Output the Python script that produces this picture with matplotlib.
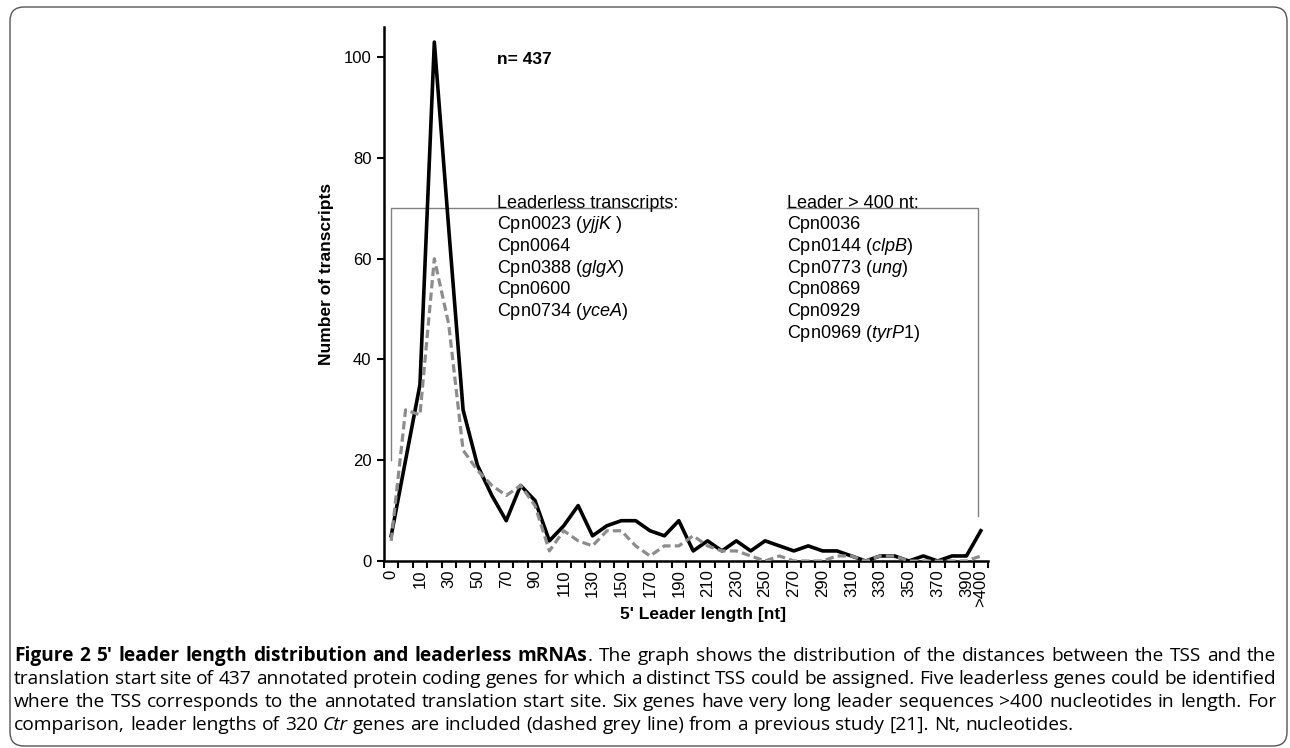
import numpy as np
import matplotlib
matplotlib.use('Agg')
import matplotlib.pyplot as plt
from matplotlib.patches import FancyBboxPatch
from matplotlib.transforms import IdentityTransform

# ── fonts ─────────────────────────────────────────────────────────────────────
plt.rcParams['font.family'] = ['Liberation Sans', 'DejaVu Sans']
plt.rcParams['mathtext.fontset'] = 'custom'
plt.rcParams['mathtext.rm'] = 'Liberation Sans'
plt.rcParams['mathtext.it'] = 'Liberation Sans:italic'
plt.rcParams['mathtext.bf'] = 'Liberation Sans:bold'

W, H = 1290, 748

# ── data ──────────────────────────────────────────────────────────────────────
categories = ['0', '5'] + [str(v) for v in range(10, 400, 10)] + ['>400']
label_idx = list(range(0, 41, 2)) + [41]

cpn_counts = [5, 20, 35, 103, 66, 30, 19, 13, 8, 15, 12, 4, 7, 11, 5, 7, 8, 8, 6, 5,
              8, 2, 4, 2, 4, 2, 4, 3, 2, 3, 2, 2, 1, 0, 1, 1, 0, 1, 0, 1, 1, 6]
ctr_counts = [4, 30, 29, 60, 47, 22, 18, 15, 13, 15, 11, 2, 6, 4, 3, 6, 6, 3, 1, 3,
              3, 5, 3, 2, 2, 1, 0, 1, 0, 0, 0, 1, 1, 0, 1, 1, 0, 0, 0, 0, 0, 1]

yticks = [0, 20, 40, 60, 80, 100]

leaderless = ['Leaderless transcripts:', 'Cpn0023 ($yjjK$ )', 'Cpn0064',
              'Cpn0388 ($glgX$)', 'Cpn0600', 'Cpn0734 ($yceA$)']
long_leader = ['Leader > 400 nt:', 'Cpn0036', 'Cpn0144 ($clpB$)', 'Cpn0773 ($ung$)',
               'Cpn0869', 'Cpn0929', 'Cpn0969 ($tyrP1$)']

caption = [
    [('Figure 2 5\u2032 leader length distribution and leaderless mRNAs', 'bold'),
     ('. The graph shows the distribution of the distances between the TSS and the', 'normal')],
    [('translation start site of 437 annotated protein coding genes for which a distinct '
      'TSS could be assigned. Five leaderless genes could be identified', 'normal')],
    [('where the TSS corresponds to the annotated translation start site. Six genes have '
      'very long leader sequences >400 nucleotides in length. For', 'normal')],
    [('comparison, leader lengths of 320 ', 'normal'), ('Ctr', 'italic'),
     (' genes are included (dashed grey line) from a previous study [21]. Nt, nucleotides.', 'normal')],
]

# ── figure ────────────────────────────────────────────────────────────────────
fig = plt.figure(figsize=(W / 100, H / 100), dpi=100)
fig.add_artist(FancyBboxPatch((10, 2), 1277, 739,
                              boxstyle='round,pad=0,rounding_size=14',
                              transform=IdentityTransform(),
                              facecolor='none', edgecolor='#555555', linewidth=1.0))

ax = fig.add_axes([384 / W, 1 - 561 / H, 604 / W, 534 / H])
x = np.arange(len(categories))
ax.plot(x, cpn_counts, color='black', linewidth=2.6, zorder=3)
ax.plot(x, ctr_counts, color='#8c8c8c', linewidth=2.3, linestyle=(0, (2.6, 1.3)), zorder=4)

ax.set_xlim(-0.5, len(categories) - 0.5)
ax.set_ylim(0, 106)
ax.set_yticks(yticks)
ax.tick_params(axis='y', labelsize=12, length=5, width=1.5, direction='out', pad=4)

# category boundaries as ticks, labels in between (Excel style)
ax.set_xticks(np.arange(-0.5, len(categories), 1))
ax.set_xticklabels([])
ax.tick_params(axis='x', which='major', length=5, width=1.5, direction='out')
ax.set_xticks(label_idx, minor=True)
ax.set_xticklabels([categories[i] for i in label_idx], minor=True, rotation=90, fontsize=12)
ax.tick_params(axis='x', which='minor', length=0, pad=6)

for s in ['top', 'right']:
    ax.spines[s].set_visible(False)
for s in ['left', 'bottom']:
    ax.spines[s].set_linewidth(1.8)

# brackets around the gene lists
grey = '#808080'
ax.plot([0, 0, 19.3], [20, 70, 70], color=grey, linewidth=1.0, zorder=2)
ax.plot([27.5, 40.8, 40.8], [70, 70, 9], color=grey, linewidth=1.0, zorder=2)

def px(xp, yp):
    return xp / W, 1 - yp / H

fig.text(*px(327, 274), 'Number of transcripts', rotation=90, ha='center', va='center',
         fontsize=12.5, fontweight='bold')
fig.text(*px(703, 615), "5' Leader length [nt]", ha='center', va='center',
         fontsize=12.5, fontweight='bold')
fig.text(*px(497, 60), 'n= 437', ha='left', va='center', fontsize=12.5, fontweight='bold')

for i, s in enumerate(leaderless):
    fig.text(*px(497, 207.5 + i * 21.7), s, ha='left', va='baseline', fontsize=13)
for i, s in enumerate(long_leader):
    fig.text(*px(787, 207.5 + i * 21.7), s, ha='left', va='baseline', fontsize=13)

# ── caption, justified word by word ───────────────────────────────────────────
CAP_FONT = ['Open Sans', 'DejaVu Sans']
CAP_FS = 13.8
renderer = fig.canvas.get_renderer()
styles = {'bold': dict(fontweight='bold', fontsize=CAP_FS),
          'italic': dict(fontstyle='italic', fontsize=CAP_FS),
          'normal': dict(fontsize=CAP_FS)}

def text_width(s, **kw):
    t = fig.text(0, 0, s, family=CAP_FONT, **kw)
    w = t.get_window_extent(renderer).width
    t.remove()
    return w

space_w = text_width('a a', fontsize=CAP_FS) - text_width('aa', fontsize=CAP_FS)

def caption_line(segments, x0, y_base, width=None):
    words = []
    pending = False
    for text, style in segments:
        for k, part in enumerate(text.split(' ')):
            if k > 0:
                pending = True
            if part:
                words.append((part, style, pending and bool(words)))
                pending = False
    arts = [fig.text(0, 0, w, family=CAP_FONT, va='baseline',
                     transform=IdentityTransform(), **styles[st]) for w, st, _ in words]
    widths = [a.get_window_extent(renderer).width for a in arts]
    n_gaps = sum(1 for _, _, sp in words if sp)
    gap = space_w if width is None else (width - sum(widths)) / n_gaps
    xp = x0
    for a, w, (_, _, sp) in zip(arts, widths, words):
        if sp:
            xp += gap
        a.set_position((xp, H - y_base))
        xp += w

for i, segs in enumerate(caption):
    last = i == len(caption) - 1
    caption_line(segs, 14, 661 + i * 23, None if last else 1262)

fig.savefig('out.png', dpi=100)
